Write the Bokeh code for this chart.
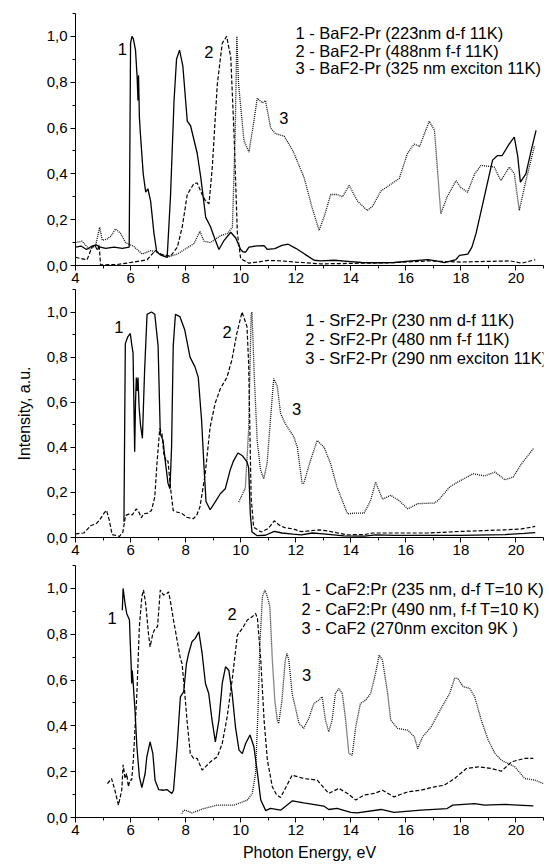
from bokeh.plotting import figure
from bokeh.layouts import column
from bokeh.models import Range1d, FixedTicker, Label, CustomJSTickFormatter, Title
from bokeh.embed import file_html
from bokeh.resources import INLINE

# ---------------- data (photon energy eV, intensity a.u.) ----------------
x_major_ticks = [4, 6, 8, 10, 12, 14, 16, 18, 20]
x_minor_ticks = [5, 7, 9, 11, 13, 15, 17, 19, 21]
y_major_ticks = [0.0, 0.2, 0.4, 0.6, 0.8, 1.0]
y_minor_ticks = [0.1, 0.3, 0.5, 0.7, 0.9, 1.1]

# BaF2-Pr
ba_1 = [(4.0,0.08),(4.2,0.085),(4.4,0.07),(4.6,0.085),(4.75,0.09),(4.9,0.08),(5.1,0.075),(5.4,0.08),
        (5.7,0.075),(5.95,0.08),(6.0,0.97),(6.05,1.0),(6.1,0.99),(6.18,0.94),(6.24,0.82),(6.27,0.72),
        (6.29,0.83),(6.32,0.65),(6.36,0.57),(6.46,0.40),(6.55,0.32),(6.63,0.335),(6.73,0.28),(6.85,0.14),
        (6.95,0.06),(7.1,0.045),(7.33,0.035),(7.45,0.3),(7.58,0.72),(7.67,0.9),(7.78,0.94),(7.9,0.87),
        (8.06,0.63),(8.18,0.61),(8.3,0.55),(8.42,0.49),(8.55,0.385),(8.73,0.21),(8.9,0.17),(9.05,0.12),
        (9.21,0.07),(9.4,0.11),(9.64,0.145),(9.82,0.12),(10.0,0.07),(10.08,0.06),(10.18,0.058),(10.3,0.08),
        (10.6,0.086),(10.85,0.087),(10.97,0.07),(11.24,0.074),(11.5,0.088),(11.73,0.093),(12.0,0.075),
        (12.2,0.06),(12.45,0.04),(12.67,0.023),(12.9,0.02),(13.4,0.023),(14.0,0.017),(14.4,0.013),
        (15.0,0.012),(15.57,0.013),(16.2,0.02),(16.8,0.026),(17.1,0.02),(17.4,0.013),(17.82,0.026),
        (17.95,0.044),(18.25,0.05),(18.4,0.08),(18.55,0.14),(18.85,0.3),(19.15,0.46),(19.33,0.48),
        (19.5,0.48),(19.75,0.53),(19.94,0.56),(20.06,0.48),(20.16,0.364),(20.36,0.40),(20.55,0.5),(20.73,0.59)]
ba_2 = [(4.0,0.036),(4.2,0.03),(4.42,0.025),(4.6,0.08),(4.7,0.09),(4.8,0.065),(4.86,0.09),(4.91,0.003),
        (5.5,0.004),(6.12,0.015),(6.6,0.025),(6.9,0.065),(7.1,0.05),(7.45,0.04),(7.7,0.08),(7.88,0.17),
        (8.06,0.31),(8.3,0.357),(8.42,0.36),(8.6,0.31),(8.73,0.28),(8.85,0.27),(8.97,0.43),(9.15,0.79),
        (9.33,0.97),(9.49,1.0),(9.64,0.91),(9.76,0.57),(9.88,0.14),(10.0,0.03),(10.3,0.01),(10.6,0.015),
        (11.0,0.022),(11.5,0.02),(12.0,0.015),(12.9,0.007),(14.4,0.01),(15.5,0.012),(16.8,0.02),
        (18.0,0.015),(19.0,0.018),(19.8,0.02),(20.2,0.01),(20.7,0.025)]
ba_3 = [(4.0,0.10),(4.24,0.106),(4.5,0.07),(4.73,0.087),(4.88,0.167),(4.97,0.11),(5.15,0.116),(5.3,0.13),
        (5.45,0.16),(5.64,0.14),(5.82,0.10),(6.12,0.083),(6.42,0.05),(6.73,0.065),(6.97,0.058),(7.33,0.036),
        (7.7,0.05),(8.0,0.073),(8.3,0.095),(8.52,0.148),(8.67,0.106),(8.9,0.10),(9.27,0.13),(9.52,0.14),
        (9.7,0.167),(9.8,0.57),(9.86,1.0),(9.92,0.8),(9.98,0.72),(10.12,0.545),(10.3,0.495),(10.48,0.63),
        (10.6,0.73),(10.79,0.71),(10.9,0.72),(11.09,0.6),(11.27,0.575),(11.58,0.565),(11.9,0.5),(12.3,0.385),
        (12.6,0.25),(12.85,0.153),(13.05,0.22),(13.27,0.31),(13.5,0.31),(13.7,0.30),(13.94,0.35),(14.25,0.28),
        (14.6,0.24),(14.8,0.26),(15.09,0.325),(15.4,0.35),(15.76,0.38),(16.06,0.49),(16.3,0.53),(16.5,0.52),
        (16.85,0.63),(17.04,0.59),(17.27,0.225),(17.5,0.30),(17.82,0.37),(18.0,0.34),(18.24,0.32),(18.5,0.40),
        (18.73,0.437),(19.21,0.43),(19.45,0.37),(19.76,0.43),(19.94,0.40),(20.12,0.24),(20.36,0.37),(20.67,0.52)]

# SrF2-Pr
sr_1 = [(5.76,0.07),(5.81,0.86),(5.90,0.89),(5.99,0.905),(6.05,0.85),(6.09,0.82),(6.12,0.6),(6.15,0.38),
        (6.18,0.6),(6.21,0.71),(6.24,0.65),(6.27,0.71),(6.31,0.58),(6.36,0.5),(6.43,0.44),(6.51,0.74),
        (6.60,0.99),(6.76,1.0),(6.88,0.99),(7.0,0.85),(7.08,0.46),(7.18,0.43),(7.26,0.34),(7.36,0.24),
        (7.43,0.216),(7.49,0.40),(7.55,0.85),(7.63,0.99),(7.79,0.98),(7.97,0.92),(8.16,0.80),(8.34,0.757),
        (8.46,0.71),(8.58,0.52),(8.67,0.31),(8.74,0.16),(8.89,0.123),(9.07,0.157),(9.26,0.194),(9.44,0.216),
        (9.62,0.30),(9.74,0.34),(9.9,0.375),(10.05,0.364),(10.23,0.335),(10.29,0.31),(10.35,0.105),
        (10.41,0.024),(10.6,0.008),(10.9,0.01),(11.22,0.027),(11.5,0.02),(11.9,0.015),(12.2,0.012),
        (12.6,0.02),(13.0,0.016),(13.75,0.007),(14.5,0.006),(14.9,0.012),(15.6,0.009),(18.0,0.009),
        (19.6,0.013),(20.3,0.018),(20.7,0.022)]
sr_2 = [(4.0,0.016),(4.3,0.02),(4.56,0.053),(4.74,0.06),(4.86,0.075),(5.05,0.11),(5.13,0.12),(5.23,0.075),
        (5.33,0.013),(5.6,0.005),(5.72,0.024),(5.82,0.098),(5.96,0.105),(6.06,0.10),(6.21,0.127),(6.3,0.113),
        (6.39,0.087),(6.47,0.105),(6.63,0.108),(6.76,0.12),(6.88,0.18),(6.96,0.33),(7.06,0.483),(7.14,0.46),
        (7.21,0.37),(7.3,0.335),(7.36,0.34),(7.45,0.22),(7.55,0.12),(7.67,0.113),(7.85,0.108),(8.04,0.09),
        (8.28,0.083),(8.4,0.098),(8.52,0.135),(8.71,0.28),(8.89,0.49),(9.07,0.594),(9.26,0.66),(9.5,0.71),
        (9.68,0.787),(9.86,0.905),(10.05,1.0),(10.23,0.935),(10.29,0.77),(10.38,0.18),(10.47,0.046),
        (10.75,0.024),(11.0,0.04),(11.22,0.074),(11.4,0.055),(11.6,0.044),(11.9,0.038),(12.2,0.026),
        (12.4,0.028),(12.85,0.034),(13.2,0.028),(13.85,0.012),(14.5,0.013),(14.8,0.02),(16.8,0.02),
        (18.0,0.027),(19.6,0.034),(20.2,0.038),(20.7,0.049)]
sr_3 = [(9.93,0.157),(10.17,0.22),(10.29,0.48),(10.38,0.99),(10.41,1.0),(10.5,0.70),(10.6,0.43),(10.72,0.30),
        (10.84,0.26),(10.96,0.33),(11.08,0.52),(11.2,0.705),(11.33,0.67),(11.45,0.55),(11.62,0.505),
        (11.93,0.446),(12.06,0.40),(12.23,0.24),(12.29,0.24),(12.53,0.34),(12.78,0.43),(13.03,0.40),
        (13.26,0.33),(13.5,0.224),(13.88,0.105),(14.12,0.108),(14.48,0.108),(14.72,0.164),(14.9,0.246),
        (15.15,0.17),(15.45,0.187),(15.75,0.164),(16.07,0.127),(16.43,0.15),(17.04,0.153),(17.17,0.164),
        (17.59,0.224),(17.89,0.246),(18.44,0.283),(18.86,0.273),(19.24,0.29),(19.6,0.256),(19.9,0.268),
        (20.2,0.327),(20.63,0.394)]

# CaF2:Pr / CaF2
ca_1 = [(5.70,0.905),(5.73,1.0),(5.80,0.934),(5.86,0.891),(5.96,0.862),(5.99,0.76),(6.02,0.672),(6.04,0.585),
        (6.06,0.643),(6.08,0.614),(6.16,0.469),(6.23,0.309),(6.32,0.178),(6.41,0.13),(6.53,0.192),(6.59,0.265),
        (6.71,0.33),(6.81,0.279),(6.89,0.163),(7.02,0.122),(7.2,0.119),(7.32,0.122),(7.5,0.105),(7.56,0.119),
        (7.69,0.309),(7.81,0.527),(7.93,0.549),(8.03,0.672),(8.11,0.716),(8.23,0.767),(8.35,0.782),(8.48,0.811),
        (8.6,0.716),(8.72,0.585),(8.84,0.541),(8.96,0.425),(9.08,0.33),(9.21,0.425),(9.33,0.585),(9.45,0.658),
        (9.57,0.643),(9.69,0.541),(9.81,0.396),(9.94,0.294),(10.06,0.279),(10.18,0.323),(10.34,0.36),
        (10.48,0.309),(10.61,0.192),(10.73,0.076),(10.91,0.03),(11.08,0.04),(11.45,0.032),(11.88,0.073),
        (12.29,0.064),(13.02,0.05),(13.2,0.035),(13.5,0.04),(14.0,0.022),(14.23,0.02),(15.1,0.035),
        (15.57,0.022),(16.55,0.032),(17.5,0.039),(17.7,0.054),(18.5,0.061),(18.86,0.054),(19.6,0.057),(20.63,0.051)]
ca_2 = [(5.16,0.148),(5.31,0.17),(5.43,0.119),(5.56,0.054),(5.68,0.119),(5.73,0.23),(5.76,0.207),(5.8,0.17),
        (5.86,0.192),(5.92,0.134),(5.98,0.163),(6.04,0.163),(6.1,0.25),(6.23,0.541),(6.32,0.833),(6.41,0.964),
        (6.47,0.993),(6.55,0.934),(6.65,0.803),(6.71,0.745),(6.81,0.803),(6.89,0.825),(6.98,0.833),(7.08,0.993),
        (7.2,0.971),(7.32,0.978),(7.38,0.985),(7.44,0.949),(7.56,0.862),(7.69,0.774),(7.81,0.694),(7.87,0.672),
        (7.95,0.571),(8.05,0.425),(8.17,0.279),(8.29,0.258),(8.42,0.258),(8.6,0.207),(8.72,0.221),(8.9,0.243),
        (9.15,0.265),(9.33,0.323),(9.51,0.44),(9.69,0.6),(9.88,0.796),(10.06,0.825),(10.24,0.862),(10.42,0.876),
        (10.54,0.891),(10.61,0.869),(10.73,0.687),(10.85,0.425),(10.97,0.25),(11.15,0.134),(11.3,0.1),
        (11.45,0.087),(11.87,0.185),(12.29,0.17),(12.78,0.163),(13.2,0.105),(13.57,0.127),(13.88,0.105),
        (14.18,0.076),(14.48,0.098),(14.85,0.105),(15.15,0.119),(15.57,0.09),(16.07,0.112),(16.55,0.119),
        (17.04,0.134),(17.4,0.141),(17.77,0.17),(18.2,0.214),(18.63,0.221),(19.11,0.214),(19.47,0.202),
        (19.84,0.243),(20.32,0.258),(20.63,0.258)]
ca_3 = [(7.87,0.017),(7.91,0.03),(7.99,0.032),(8.23,0.02),(8.66,0.039),(9.15,0.054),(9.76,0.054),(10.24,0.076),
        (10.42,0.105),(10.54,0.192),(10.63,0.469),(10.7,0.76),(10.79,0.964),(10.88,0.993),(10.97,0.964),
        (11.06,0.92),(11.15,0.687),(11.24,0.512),(11.33,0.425),(11.38,0.41),(11.5,0.512),(11.62,0.687),
        (11.68,0.716),(11.75,0.687),(11.87,0.541),(11.98,0.483),(12.12,0.41),(12.29,0.389),(12.47,0.432),
        (12.66,0.498),(12.84,0.512),(12.96,0.527),(13.08,0.425),(13.2,0.374),(13.32,0.425),(13.44,0.541),
        (13.57,0.563),(13.69,0.541),(13.8,0.44),(13.93,0.279),(14.05,0.272),(14.18,0.396),(14.35,0.498),
        (14.54,0.512),(14.72,0.541),(14.9,0.629),(15.03,0.709),(15.15,0.687),(15.34,0.541),(15.45,0.425),
        (15.7,0.389),(16.07,0.381),(16.31,0.352),(16.43,0.301),(16.61,0.352),(16.92,0.396),(17.28,0.476),
        (17.59,0.541),(17.77,0.607),(17.89,0.607),(18.08,0.571),(18.32,0.563),(18.5,0.527),(18.74,0.425),
        (18.99,0.338),(19.24,0.279),(19.47,0.25),(19.71,0.236),(19.96,0.221),(20.32,0.17),(20.69,0.163),(21.0,0.148)]

ba_legend = ["1 - BaF2-Pr (223nm d-f 11K)", "2 - BaF2-Pr (488nm f-f 11K)", "3 - BaF2-Pr (325 nm exciton 11K)"]
sr_legend = ["1 - SrF2-Pr (230 nm d-f 11K)", "2 - SrF2-Pr (480 nm f-f 11K)", "3 - SrF2-Pr (290 nm exciton 11K)"]
ca_legend = ["1 - CaF2:Pr (235 nm, d-f  T=10 K)", "2 - CaF2:Pr (490 nm, f-f  T=10 K)", "3 - CaF2 (270nm exciton 9K )"]
x_title = "Photon Energy, eV"
y_title = "Intensity, a.u."

FONT = "Liberation Sans"


def make_fig(height, top, bottom):
    p = figure(width=549, height=height, x_range=Range1d(4, 21), y_range=Range1d(0, 1.1),
               output_backend="svg", toolbar_location=None,
               min_border_left=75, min_border_right=6, min_border_top=top, min_border_bottom=bottom)
    p.outline_line_color = None
    p.xgrid.visible = False
    p.ygrid.visible = False
    p.background_fill_color = "white"
    p.border_fill_color = "white"
    p.xaxis.ticker = FixedTicker(ticks=x_major_ticks, minor_ticks=x_minor_ticks)
    p.yaxis.ticker = FixedTicker(ticks=y_major_ticks, minor_ticks=y_minor_ticks)
    p.yaxis.formatter = CustomJSTickFormatter(code="return tick.toFixed(1).replace('.', ',');")
    for ax in (p.xaxis[0], p.yaxis[0]):
        ax.axis_line_color = "black"
        ax.axis_line_width = 1
        ax.major_tick_line_color = "black"
        ax.minor_tick_line_color = "black"
        ax.major_tick_in = 0
        ax.major_tick_out = 5
        ax.minor_tick_in = 0
        ax.minor_tick_out = 3
        ax.major_label_text_font = FONT
        ax.major_label_text_font_size = "15px"
        ax.major_label_text_color = "black"
    p.yaxis.major_label_standoff = 3
    p.xaxis.major_label_standoff = 2
    return p


def add_curves(p, c1, c2, c3):
    p.line([a for a, b in c1], [b for a, b in c1], line_color="black", line_width=1.3)
    p.line([a for a, b in c2], [b for a, b in c2], line_color="black", line_width=1.2, line_dash="4 2")
    p.line([a for a, b in c3], [b for a, b in c3], line_color="#111111", line_width=1.3, line_dash="1 1")


def lbl(p, x, y, text, size="16.5px", align="center"):
    p.add_layout(Label(x=x, y=y, text=text, text_font=FONT, text_font_size=size,
                       text_align=align, text_baseline="middle", text_color="black"))


p1 = make_fig(289, 13, 24)
add_curves(p1, ba_1, ba_2, ba_3)
for t, yy in zip(ba_legend, [1.017, 0.937, 0.860]):
    lbl(p1, 11.99, yy, t, align="left")
lbl(p1, 5.70, 0.943, "1")
lbl(p1, 8.84, 0.933, "2")
lbl(p1, 11.57, 0.642, "3")

p2 = make_fig(276, 0, 28)
add_curves(p2, sr_1, sr_2, sr_3)
for t, yy in zip(sr_legend, [0.966, 0.882, 0.798]):
    lbl(p2, 12.35, yy, t, align="left")
lbl(p2, 5.57, 0.932, "1")
lbl(p2, 9.51, 0.91, "2")
lbl(p2, 12.03, 0.57, "3")
p2.add_layout(Title(text=y_title, align="center", offset=20, standoff=22, text_font=FONT,
                    text_font_size="16px", text_font_style="normal", text_color="black"), "left")

p3 = make_fig(303, 0, 51)
add_curves(p3, ca_1, ca_2, ca_3)
for t, yy in zip(ca_legend, [0.996, 0.910, 0.826]):
    lbl(p3, 12.21, yy, t, align="left")
lbl(p3, 5.33, 0.873, "1")
lbl(p3, 9.69, 0.89, "2")
lbl(p3, 12.39, 0.621, "3")
p3.xaxis.axis_label = x_title
p3.xaxis.axis_label_text_font = FONT
p3.xaxis.axis_label_text_font_size = "16px"
p3.xaxis.axis_label_text_font_style = "normal"
p3.xaxis.axis_label_text_color = "black"
p3.xaxis.axis_label_standoff = 6

layout = column(p1, p2, p3, spacing=0)
open("out.html", "w").write(file_html(layout, INLINE))
